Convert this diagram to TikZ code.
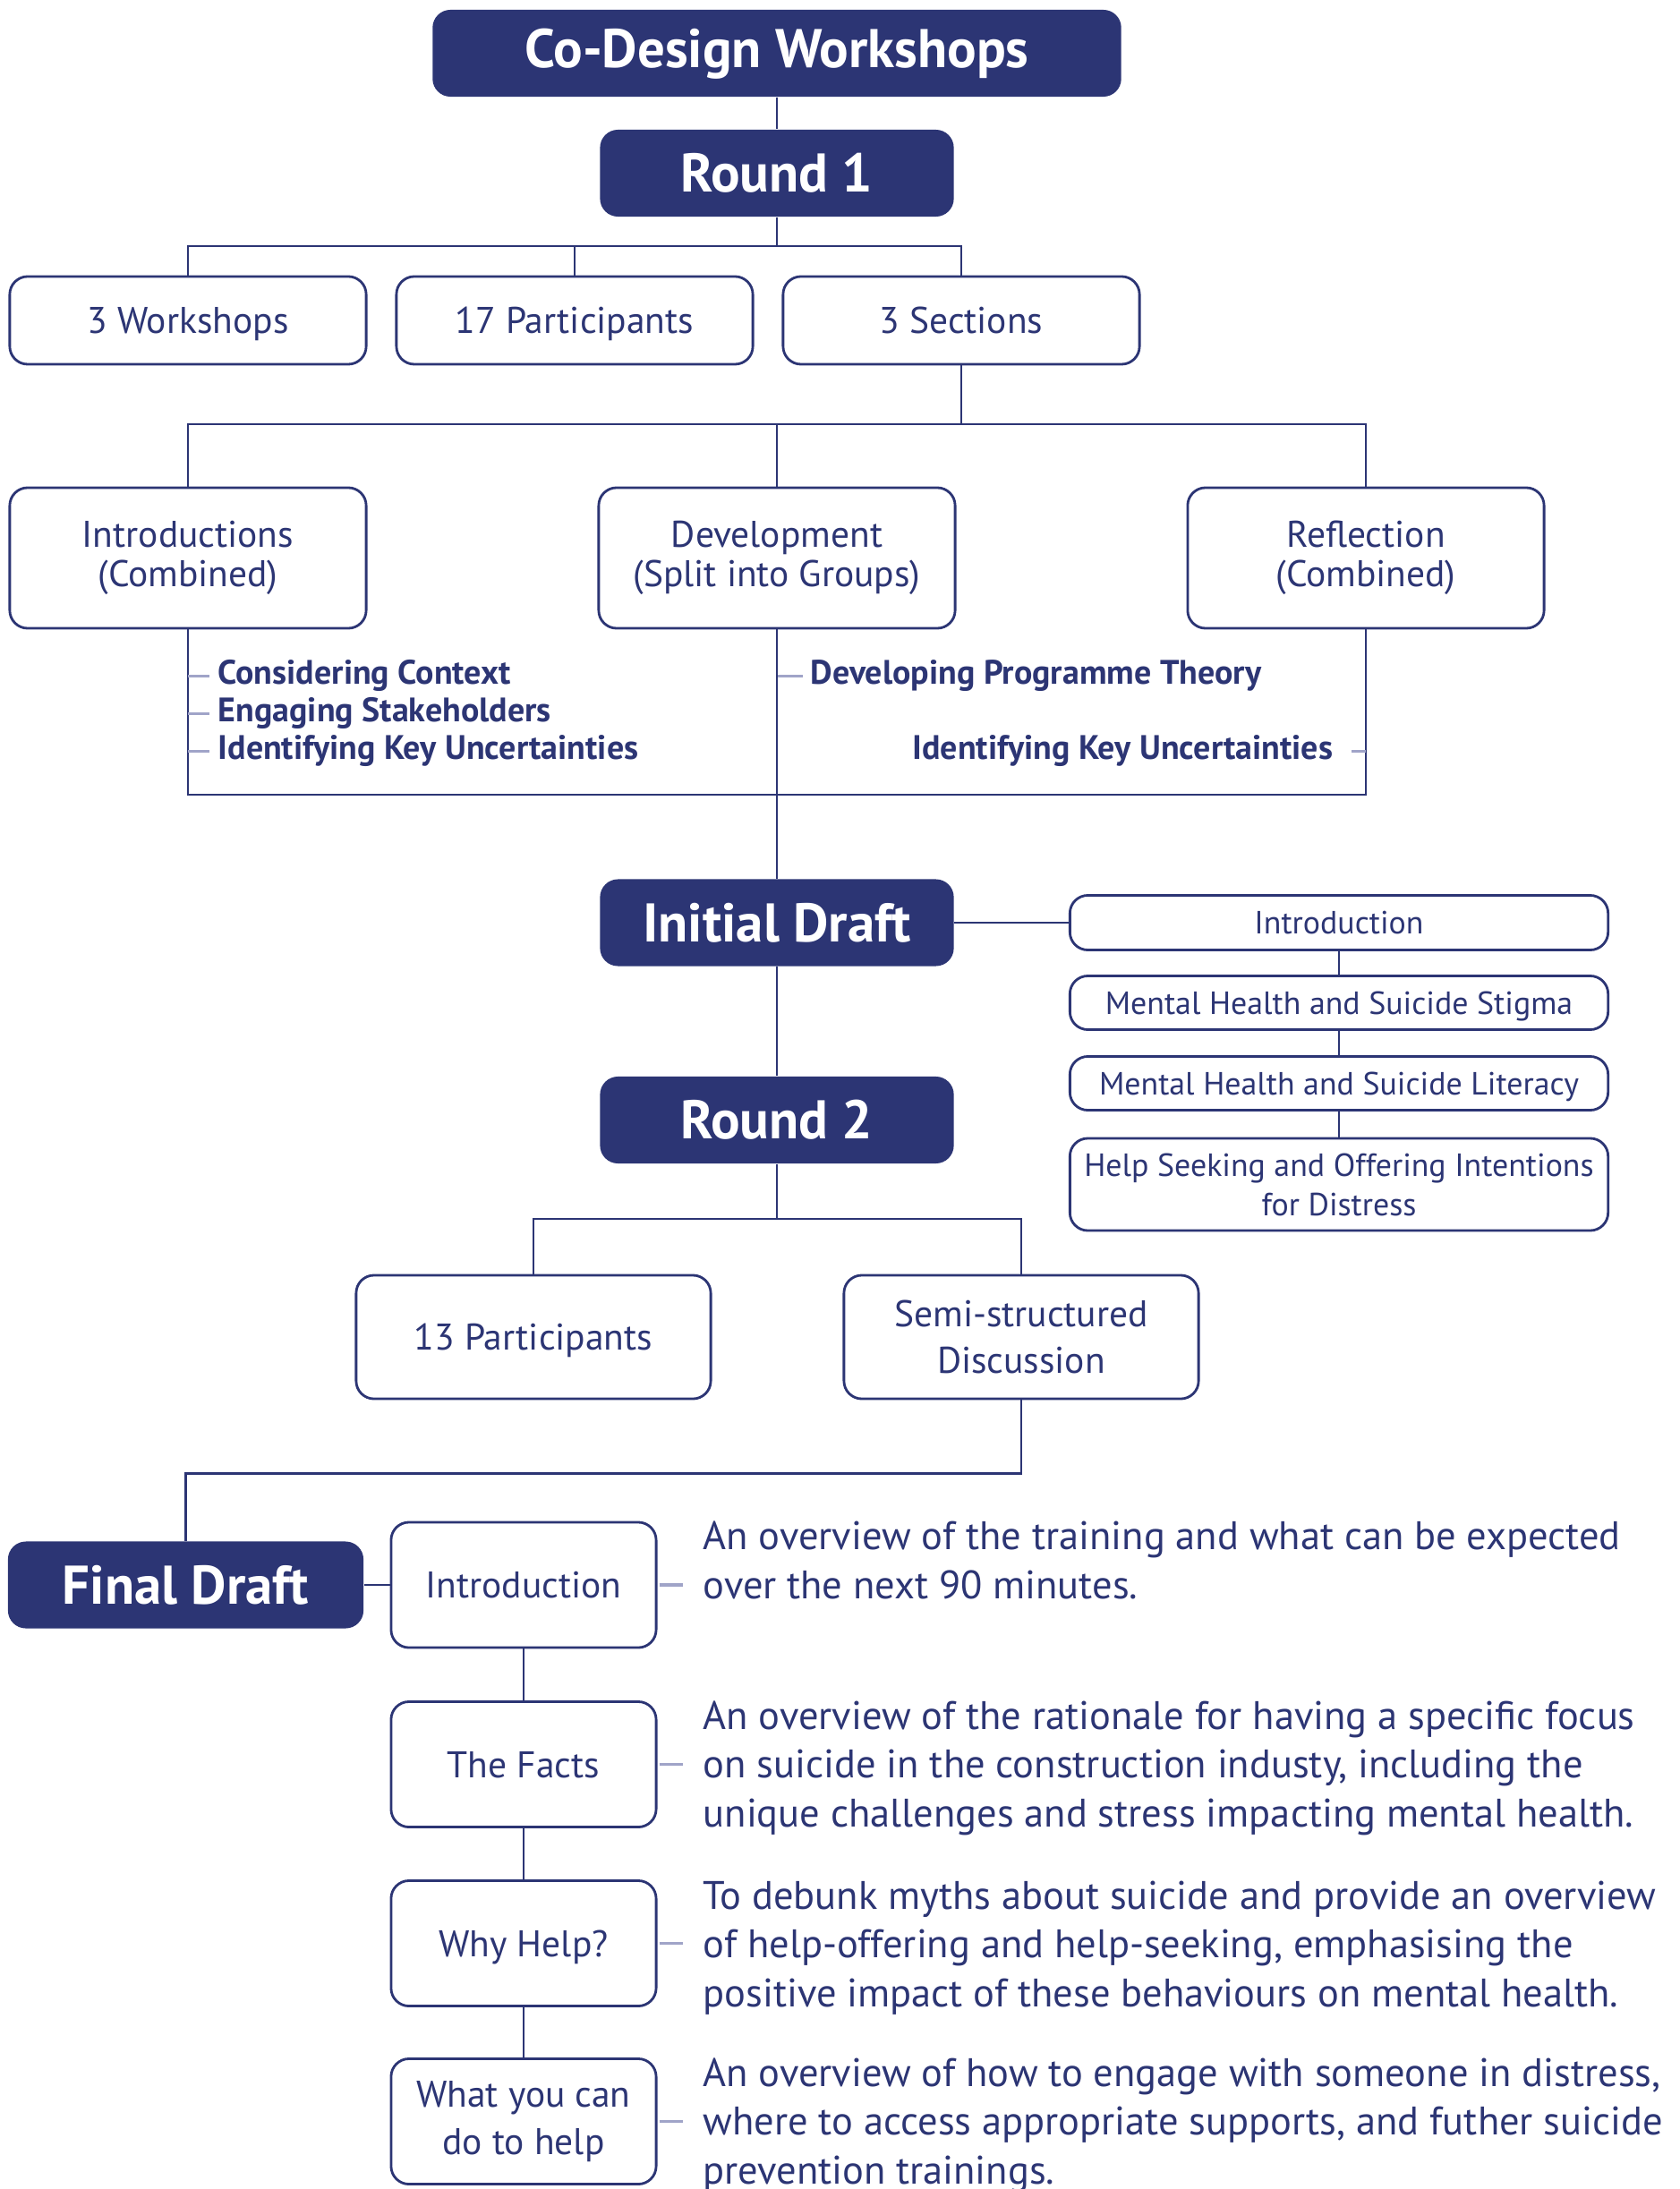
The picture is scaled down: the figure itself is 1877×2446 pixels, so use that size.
\documentclass[tikz,border=0pt]{standalone}
\usepackage{fontspec}
\setmainfont{PT Sans}
\usepackage{tikz}
\definecolor{navy}{RGB}{44,53,116}
\definecolor{tickgray}{RGB}{160,164,200}

\begin{document}
\begin{tikzpicture}[x=0.01cm, y=-0.01cm,
  darkbox/.style={fill=navy, rounded corners=0.2cm, text=white, inner sep=0pt,
    text height=12.1pt, text depth=0pt,
    font=\bfseries\fontsize{17.3}{20}\selectfont, minimum width=3.95cm, minimum height=0.97cm},
  litebox/.style={draw=navy, line width=0.8pt, rounded corners=0.2cm, text=navy, fill=white,
    align=center, inner sep=0pt, font=\fontsize{11.8}{12.4}\selectfont},
  oneline/.style={text height=8.26pt, text depth=0pt},
  smallbox/.style={litebox, font=\fontsize{10.2}{12.5}\selectfont, minimum width=6.01cm},
  subitem/.style={text=navy, inner sep=0pt, font=\bfseries\fontsize{10.8}{12}\selectfont},
  desc/.style={text=navy, inner sep=0pt, align=left, font=\fontsize{12.65}{15.4}\selectfont},
  link/.style={draw=navy, line width=0.7pt},
  itemtick/.style={draw=tickgray, line width=0.9pt}]
\useasboundingbox (0,0) rectangle (1877,2446);

% round 1
\node[darkbox, text depth=3.2pt, minimum width=7.69cm] (codesign) at (868,59.5) {Co-Design Workshops};
\node[darkbox] (round1) at (868,193.5) {Round 1};
\node[litebox, oneline, minimum width=3.98cm, minimum height=0.98cm] (workshops) at (210,358) {3 Workshops};
\node[litebox, oneline, minimum width=3.98cm, minimum height=0.98cm] (parts17) at (642,358) {17 Participants};
\node[litebox, oneline, minimum width=3.98cm, minimum height=0.98cm] (sections) at (1074,358) {3 Sections};

\coordinate (bus1) at (868,275);
\draw[link] (codesign) -- (round1);
\draw[link] (round1) -- (bus1);
\draw[link] (workshops.north) |- (bus1) -| (sections.north);
\draw[link] (parts17.north) -- (parts17.north |- bus1);

% sections
\node[litebox, minimum width=3.98cm, minimum height=1.57cm] (intro) at (210,623.5) {Introductions\\(Combined)};
\node[litebox, minimum width=3.98cm, minimum height=1.57cm] (devel) at (868,623.5) {Development\\(Split into Groups)};
\node[litebox, minimum width=3.98cm, minimum height=1.57cm] (reflect) at (1526,623.5) {Reflection\\(Combined)};

\coordinate (bus2) at (868,474);
\coordinate (bus3) at (868,888);
\draw[link] (sections.south) -- (sections.south |- bus2);
\draw[link] (intro.north) |- (bus2) -| (reflect.north);
\draw[link] (devel.north) -- (bus2);
\draw[link] (intro.south) |- (bus3) -| (reflect.south);

\node[subitem, anchor=base west] (context) at (243,764) {Considering Context};
\node[subitem, anchor=base west] (stake) at (243,806) {Engaging Stakeholders};
\node[subitem, anchor=base west] (uncert) at (243,848) {Identifying Key Uncertainties};
\node[subitem, anchor=base west] (theory) at (905,764) {Developing Programme Theory};
\node[subitem, anchor=base east] (uncert2) at (1490,848) {Identifying Key Uncertainties};
\foreach \it in {context,stake,uncert}
  \draw[itemtick] (intro.south |- \it.mid west) -- ([xshift=-0.09cm]\it.mid west);
\draw[itemtick] (devel.south |- theory.mid west) -- ([xshift=-0.08cm]theory.mid west);
\draw[itemtick] (reflect.south |- uncert2.mid east) -- ([xshift=0.2cm]uncert2.mid east);

% initial draft
\node[darkbox] (initial) at (868,1031) {Initial Draft};
\node[smallbox, text height=7.14pt, text depth=0pt, minimum height=0.61cm] (dintro) at (1496,1031) {Introduction};
\node[smallbox, text height=7.14pt, text depth=0pt, minimum height=0.60cm] (stigma) at (1496,1120.5) {Mental Health and Suicide Stigma};
\node[smallbox, text height=7.14pt, text depth=0pt, minimum height=0.60cm] (literacy) at (1496,1210.5) {Mental Health and Suicide Literacy};
\node[smallbox, minimum height=1.03cm] (seeking) at (1496,1323.5) {Help Seeking and Offering Intentions\\for Distress};
\draw[link] (devel.south) -- (initial.north);
\draw[link] (initial.east) -- (dintro.west);
\draw[link] (dintro) -- (stigma);
\draw[link] (stigma) -- (literacy);
\draw[link] (literacy) -- (seeking);

% round 2
\node[darkbox] (round2) at (868,1251.5) {Round 2};
\node[litebox, oneline, minimum width=3.96cm, minimum height=1.38cm] (parts13) at (596,1494) {13 Participants};
\node[litebox, minimum width=3.96cm, minimum height=1.38cm, font=\fontsize{11.8}{15}\selectfont] (semi) at (1141,1494) {Semi-structured\\Discussion};
\coordinate (bus4) at (868,1362);
\draw[link] (initial) -- (round2);
\draw[link] (round2) -- (bus4);
\draw[link] (parts13.north) |- (bus4) -| (semi.north);

% final draft
\node[darkbox, minimum width=3.97cm] (final) at (207.5,1771) {Final Draft};
\draw[link] (semi.south) -- ++(0,82) -| (final.north);
\node[litebox, oneline, minimum width=2.96cm, minimum height=1.40cm] (fintro) at (585,1771) {Introduction};
\node[litebox, oneline, minimum width=2.96cm, minimum height=1.40cm] (facts) at (585,1971.5) {The Facts};
\node[litebox, oneline, minimum width=2.96cm, minimum height=1.40cm] (whyhelp) at (585,2171.5) {Why Help?};
\node[litebox, minimum width=2.96cm, minimum height=1.40cm, font=\fontsize{11.8}{15}\selectfont] (whatcan) at (585,2370.5) {What you can\\do to help};
\draw[link] (final) -- (fintro);
\draw[link] (fintro) -- (facts);
\draw[link] (facts) -- (whyhelp);
\draw[link] (whyhelp) -- (whatcan);

\node[desc, anchor=base west] (dfintro) at (785,1786) {An overview of the training and what can be expected\\over the next 90 minutes.};
\node[desc, anchor=base west] (dfacts) at (785,2041) {An overview of the rationale for having a specific focus\\on suicide in the construction industy, including the\\unique challenges and stress impacting mental health.};
\node[desc, anchor=base west] (dwhy) at (785,2242) {To debunk myths about suicide and provide an overview\\of help-offering and help-seeking, emphasising the\\positive impact of these behaviours on mental health.};
\node[desc, anchor=base west] (dwhat) at (785,2440) {An overview of how to engage with someone in distress,\\where to access appropriate supports, and futher suicide\\prevention trainings.};
\foreach \bx/\ds in {fintro/dfintro,facts/dfacts,whyhelp/dwhy,whatcan/dwhat}
  \draw[itemtick] ([xshift=0.02cm]\bx.east) -- ([xshift=-0.22cm]\bx.east -| \ds.west);
\end{tikzpicture}
\end{document}
